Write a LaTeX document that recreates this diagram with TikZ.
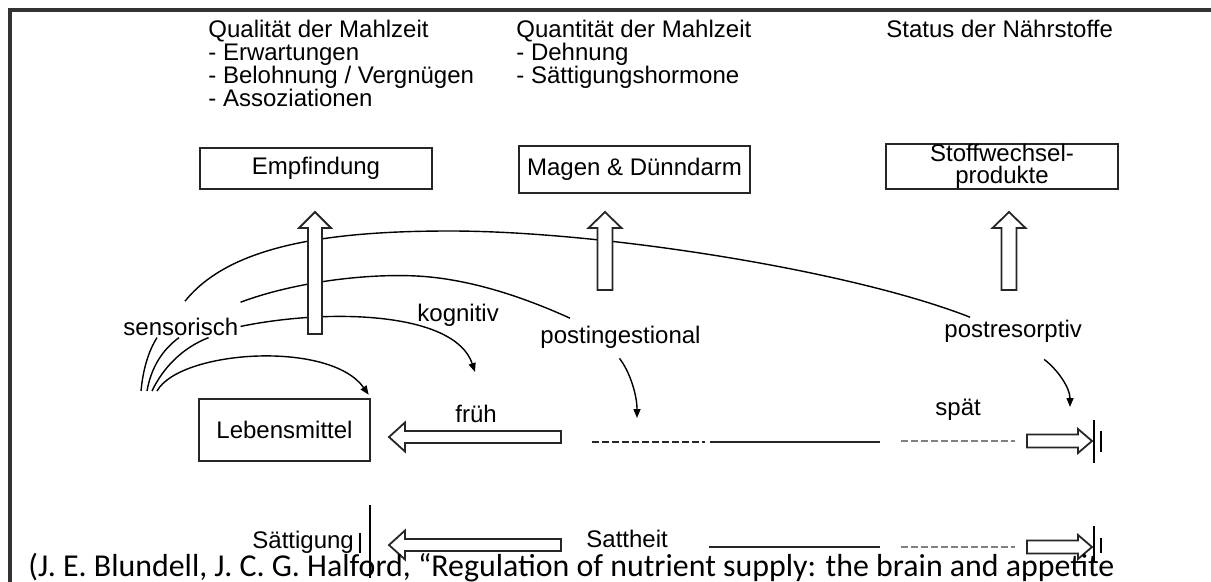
\documentclass[tikz,border=0pt]{standalone}
\usepackage{fontspec}
\setmainfont{Liberation Sans}
\newfontfamily\citefont{Carlito}
\usetikzlibrary{arrows.meta, calc}

\newcommand{\diagfont}{\fontsize{12.05pt}{11.6pt}\selectfont}
\newcommand{\tightfont}{\fontsize{12.05pt}{11pt}\selectfont}

\tikzset{
    % Hollow block arrow: length, shaft half width, head half width, head length
    pics/blockarrow/.style n args={4}{code={
        \draw[hollow] (0,-#2) -- (#1-#4,-#2) -- (#1-#4,-#3) -- (#1,0)
            -- (#1-#4,#3) -- (#1-#4,#2) -- (0,#2) -- cycle;
    }}
}

\begin{document}
\begin{tikzpicture}[
    x=0.5bp, y=-0.5bp,
    % Text block style
    txt/.style={
        font=\diagfont,
        inner sep=0pt,
        align=left,
        anchor=north west
    },
    % Label on the curves
    lbl/.style={
        font=\diagfont,
        inner sep=1bp,
        anchor=base west
    },
    % Box style
    box/.style={
        rectangle,
        draw=black!85,
        line width=1bp,
        inner sep=0pt,
        align=center,
        font=\diagfont
    },
    % Hollow arrow style
    hollow/.style={
        draw=black!85,
        fill=white,
        line width=0.9bp,
        line join=miter
    },
    % Curve style
    curve/.style={
        line width=0.7bp,
        black
    },
    % Curve with arrow tip
    arrow/.style={
        curve,
        -{Triangle[length=4.5bp, width=3.5bp]}
    },
    % Time line styles
    solid line/.style={line width=1bp, black!85},
    dash line/.style={line width=1bp, black!85, dash pattern=on 3.5bp off 1.5bp},
    grey line/.style={line width=1bp, black!50, dash pattern=on 3.5bp off 1.5bp},
    bar/.style={line width=1.1bp, black}
]
\useasboundingbox (0,0) rectangle (1211,582);

% === Frame ===
\draw[line width=1.6bp, black!80] (10,582) -- (10,10) -- (1211,10);

% === Top: what is registered ===
\node[txt] (quali) at (208,19.5) {Qualität der Mahlzeit\\- Erwartungen\\- Belohnung / Vergnügen\\- Assoziationen};
\node[txt] (quanti) at (516,19.5) {Quantität der Mahlzeit\\- Dehnung\\- Sättigungshormone};
\node[txt] (status) at (886,19.5) {Status der Nährstoffe};

% === Boxes ===
\node[box, minimum width=116bp, minimum height=20.5bp] (empf) at (316,168.5) {Empfindung};
\node[box, minimum width=115.5bp, minimum height=23.5bp] (magen) at (634.5,169.5) {Magen \& Dünndarm};
\node[box, minimum width=116bp, minimum height=22.5bp, font=\tightfont] (stoff) at (1002,166.5) {Stoffwechsel-\\produkte};
\node[box, minimum width=85.5bp, minimum height=31bp] (lebens) at (284.5,430) {Lebensmittel};

% === Labels ===
\node[lbl] (sens) at (121,335) {sensorisch};
\node[lbl] (kogn) at (415,321) {kognitiv};
\node[lbl] (posting) at (538,343) {postingestional};
\node[lbl] (postres) at (942,337) {postresorptiv};
\node[lbl] (frueh) at (453,422) {früh};
\node[lbl] (spaet) at (933,415) {spät};
\node[lbl] (saett) at (250,548) {Sättigung};
\node[lbl] (satt) at (584,547) {Sattheit};

% === Fan of curves ===
\coordinate (root1) at (141,391);
\coordinate (root2) at (147,391);
\coordinate (root3) at (152,391);
\coordinate (root4) at (157,391);
\coordinate (kTip) at (475,372);
\coordinate (pgTip) at (637,418);
\coordinate (prTip) at (1070,407);

\draw[curve] (root1) .. controls (143,370) and (148,352) .. ($(sens.south west)+(36,0)$);
\draw[curve] ($(sens.north west)+(64,-14)$) .. controls (230,245) and (330,231) .. (450,231)
    .. controls (600,231) and (850,270) .. ($(postres.north west)+(28,0)$);

\draw[curve] (root2) .. controls (151,368) and (162,350) .. ($(sens.south west)+(58,0)$);
\draw[curve] ($(sens.north east)+(0,-13)$) .. controls (300,280) and (380,272) .. (430,277)
    .. controls (480,282) and (530,300) .. ($(posting.north west)+(32,-5)$);

\draw[curve] (root3) .. controls (163,368) and (182,348) .. ($(sens.south east)+(-32,0)$);
\draw[arrow] (sens.east) .. controls (330,308) and (455,312) .. (kTip);

\draw[arrow, shorten >=2bp] (root4) .. controls (180,350) and (330,340) .. (lebens.north east);

\draw[arrow] ($(posting.south)+(-1,8)$) .. controls (630,372) and (637,395) .. (pgTip);
\draw[arrow] ($(postres.south)+(31,15)$) .. controls (1058,370) and (1070,388) .. (prTip);

% === Upward arrows ===
\pic[rotate=90] at (315,334) {blockarrow={122}{7}{16}{16}};
\pic[rotate=90] at (605,290) {blockarrow={78}{7.5}{16.5}{16}};
\pic[rotate=90] at (1009,290) {blockarrow={78}{7.5}{16.5}{16}};

% === Row 1: frueh / spaet ===
\pic[rotate=180] at (561,437) {blockarrow={172}{6}{14.5}{16}};
\draw[dash line] (592,442) -- (705,442);
\draw[solid line] (710,442) -- (880,442);
\draw[grey line] (901,441) -- (1015,441);
\pic at (1027,441) {blockarrow={65}{6.5}{12}{14}};
\draw[bar] (1094,420) -- (1094,463);
\draw[bar] (1101,431) -- (1101,452);

% === Row 2: Saettigung / Sattheit ===
\draw[bar] (360,533) -- (360,553);
\draw[bar] (370,505) -- (370,578);
\pic[rotate=180] at (561,545) {blockarrow={172}{6}{14.5}{16}};
\draw[solid line] (709,547) -- (880,547);
\draw[grey line] (901,547) -- (1015,547);
\pic at (1027,547) {blockarrow={65}{6.5}{12}{14}};
\draw[bar] (1094,526) -- (1094,562);
\draw[bar] (1101,538) -- (1101,553);

% === Citation ===
\node[anchor=base west, inner sep=0pt, font=\citefont\fontsize{16pt}{18pt}\selectfont] (cite) at (28,576)
    {(J. E. Blundell, J. C. G. Halford, “Regulation of nutrient supply: the brain and appetite};

\end{tikzpicture}
\end{document}
